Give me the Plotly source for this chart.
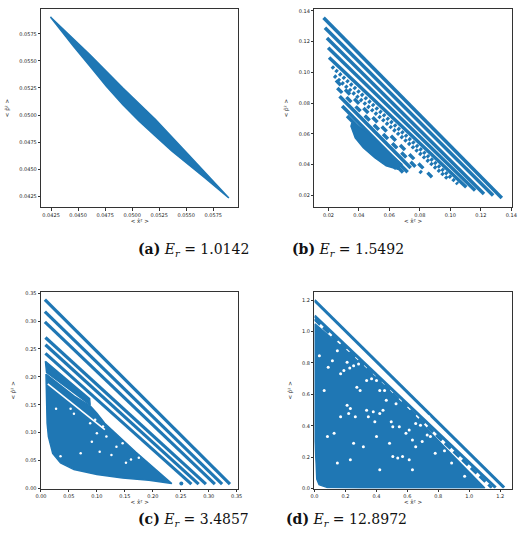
import plotly.graph_objects as go

BLUE = "#1f77b4"
W, H = 528, 550

# ---- (a) E_r = 1.0142 : one thin curved band
a_top_x = [0.04244, 0.04612, 0.04914, 0.05216, 0.05517, 0.05894]
a_top_y = [0.05906, 0.05554, 0.05249, 0.04959, 0.04638, 0.04235]
a_bot_x = [0.05668, 0.05517, 0.05366, 0.05216, 0.05065, 0.04914, 0.04763, 0.04612, 0.04461, 0.04244]
a_bot_y = [0.04425, 0.04546, 0.04669, 0.04806, 0.04944, 0.05096, 0.05264, 0.05448, 0.05631, 0.05906]

# ---- (b) E_r = 1.5492 : parallel bands + small cluster
b_x0 = [0.0168, 0.0177, 0.0190, 0.0198, 0.0204, 0.0222, 0.0237, 0.0249, 0.0258, 0.0273, 0.0290, 0.0322, 0.0354]
b_y0 = [0.1355, 0.1290, 0.1224, 0.1161, 0.1097, 0.1038, 0.0979, 0.0948, 0.0899, 0.0845, 0.0781, 0.0716, 0.0663]
b_x1 = [0.1338, 0.1281, 0.1221, 0.1163, 0.1105, 0.1050, 0.0986, 0.0880, 0.0812, 0.0740, 0.0720, 0.0690, 0.0645]
b_y1 = [0.0183, 0.0198, 0.0209, 0.0231, 0.0252, 0.0273, 0.0305, 0.0318, 0.0345, 0.0378, 0.0350, 0.0348, 0.0372]
b_style = ["solid", "solid", "solid", "solid", "solid", "3px,2px", "3px,2px",
           "7px,6px", "7px,6px", "solid", "solid", "solid", "solid"]
b_blob_x = [0.0354, 0.0429, 0.0515, 0.0601, 0.0682, 0.0654, 0.0579, 0.0504, 0.0429, 0.0376, 0.0348]
b_blob_y = [0.0671, 0.0628, 0.0553, 0.0478, 0.0402, 0.0370, 0.0392, 0.0445, 0.0510, 0.0574, 0.0650]

# ---- (c) E_r = 3.4857
c_x0 = [0.007, 0.007, 0.007, 0.008, 0.008, 0.008]
c_y0 = [0.3385, 0.3168, 0.2985, 0.2706, 0.2576, 0.2422]
c_x1 = [0.338, 0.324, 0.311, 0.295, 0.282, 0.269]
c_y1 = [0.008, 0.008, 0.008, 0.008, 0.008, 0.008]
c_seg_x = [0.008, 0.087, 0.088, 0.010]
c_seg_y = [0.228, 0.161, 0.150, 0.208]
c_blob_x = [0.009, 0.060, 0.088, 0.100, 0.114, 0.170, 0.234, 0.222, 0.193, 0.146,
            0.100, 0.059, 0.035, 0.021, 0.0133, 0.011, 0.010]
c_blob_y = [0.205, 0.165, 0.148, 0.135, 0.117, 0.065, 0.009, 0.011, 0.015, 0.019,
            0.025, 0.034, 0.046, 0.063, 0.093, 0.117, 0.188]
c_gap_x = [0.0122, 0.1143]
c_gap_y = [0.1877, 0.1056]
c_dot_x = [0.251]
c_dot_y = [0.009]
c_holes_x = [0.027, 0.053, 0.059, 0.088, 0.097, 0.111, 0.100, 0.117, 0.091,
             0.105, 0.135, 0.146, 0.126, 0.152, 0.161, 0.175, 0.071, 0.035]
c_holes_y = [0.143, 0.143, 0.134, 0.117, 0.123, 0.111, 0.099, 0.093, 0.084,
             0.066, 0.075, 0.081, 0.060, 0.046, 0.052, 0.055, 0.063, 0.058]

# ---- (d) E_r = 12.8972
d_x0 = [0.0, 0.0, 0.0]
d_y0 = [1.20, 1.10, 1.08]
d_x1 = [1.225, 1.170, 1.145]
d_y1 = [0.006, 0.006, 0.005]
d_style = ["solid", "solid", "8px,4px"]
d_blob_x = [0.003, 0.21, 0.42, 0.63, 0.84, 1.05, 1.10, 0.30, 0.084, 0.03, 0.015, 0.011, 0.003]
d_blob_y = [1.05, 0.875, 0.685, 0.48, 0.265, 0.05, 0.004, 0.004, 0.006, 0.025, 0.06, 0.16, 0.30]
d_holes_x = [0.032, 0.089, 0.116, 0.148, 0.169, 0.190, 0.211, 0.228, 0.253, 0.285,
             0.211, 0.232, 0.221, 0.264, 0.337, 0.369, 0.401, 0.274, 0.295, 0.422,
             0.453, 0.464, 0.337, 0.380, 0.422, 0.443, 0.348, 0.390, 0.496, 0.506,
             0.527, 0.548, 0.591, 0.612, 0.654, 0.685, 0.728, 0.749, 0.633, 0.654,
             0.506, 0.538, 0.569, 0.612, 0.696, 0.780, 0.840, 0.253, 0.316, 0.148,
             0.232, 0.422, 0.633, 0.886, 0.970, 0.169, 0.127, 0.084, 0.063, 0.401,
             0.485, 0.738]
d_holes_y = [0.846, 0.773, 0.815, 0.878, 0.731, 0.752, 0.804, 0.768, 0.783, 0.794,
             0.531, 0.510, 0.478, 0.457, 0.689, 0.699, 0.689, 0.646, 0.625, 0.625,
             0.625, 0.562, 0.499, 0.489, 0.478, 0.499, 0.457, 0.425, 0.425, 0.394,
             0.541, 0.394, 0.352, 0.373, 0.415, 0.404, 0.341, 0.331, 0.310, 0.267,
             0.204, 0.194, 0.204, 0.183, 0.299, 0.225, 0.240, 0.288, 0.267, 0.162,
             0.183, 0.120, 0.120, 0.162, 0.078, 0.457, 0.352, 0.331, 0.625, 0.331,
             0.288, 0.457]

X_TITLE = "&lt; x\u0302\u00b2 &gt;"
Y_TITLE = "&lt; p\u0302\u00b2 &gt;"

fig = go.Figure()


def ax_ref(key):
    return dict(xaxis="x" + key, yaxis="y" + key)


def add_poly(xs, ys, key, color=BLUE):
    fig.add_trace(go.Scatter(x=xs + xs[:1], y=ys + ys[:1], mode="lines", fill="toself",
                             fillcolor=color, line=dict(color=color, width=1.5),
                             hoverinfo="skip", **ax_ref(key)))


def add_lines(x0, y0, x1, y1, styles, width, key):
    for i in range(len(x0)):
        fig.add_trace(go.Scatter(x=[x0[i], x1[i]], y=[y0[i], y1[i]], mode="lines",
                                 line=dict(color=BLUE, width=width, dash=styles[i]),
                                 hoverinfo="skip", **ax_ref(key)))


def add_dots(xs, ys, key, color, size):
    fig.add_trace(go.Scatter(x=xs, y=ys, mode="markers",
                             marker=dict(color=color, size=size, line=dict(width=0)),
                             hoverinfo="skip", **ax_ref(key)))


# (a)
add_poly(a_top_x + a_bot_x, a_top_y + a_bot_y, "")
# (b)
add_lines(b_x0, b_y0, b_x1, b_y1, b_style, 3.5, "2")
add_poly(b_blob_x, b_blob_y, "2")
# (c)
add_lines(c_x0, c_y0, c_x1, c_y1, ["solid"] * 6, 3.2, "3")
add_poly(c_blob_x, c_blob_y, "3")
add_poly(c_seg_x, c_seg_y, "3")
fig.add_trace(go.Scatter(x=c_gap_x, y=c_gap_y, mode="lines", line=dict(color="white", width=1.6),
                         hoverinfo="skip", **ax_ref("3")))
add_dots(c_dot_x, c_dot_y, "3", BLUE, 4)
add_dots(c_holes_x, c_holes_y, "3", "white", 2.5)
# (d)
add_poly(d_blob_x, d_blob_y, "4")
add_lines(d_x0, d_y0, d_x1, d_y1, d_style, 3, "4")
add_dots(d_holes_x, d_holes_y, "4", "white", 3)

# panel boxes in pixels: left, right, top, bottom
panels = {
    "": dict(box=(36, 237.3, 7, 207), xr=[0.04159, 0.05982], yr=[0.0415, 0.0598],
             ticks=[0.0425, 0.045, 0.0475, 0.05, 0.0525, 0.055, 0.0575], fmt=".4f"),
    "2": dict(box=(315, 516.3, 7, 207), xr=[0.0108, 0.1402], yr=[0.0123, 0.1413],
              ticks=[0.02, 0.04, 0.06, 0.08, 0.10, 0.12, 0.14], fmt=".2f"),
    "3": dict(box=(35.7, 237.3, 292.7, 491), xr=[0, 0.353], yr=[0, 0.352],
              ticks=[0, 0.05, 0.10, 0.15, 0.20, 0.25, 0.30, 0.35], fmt=".2f"),
    "4": dict(box=(315, 516.3, 292.7, 491), xr=[0, 1.273], yr=[0, 1.252],
              ticks=[0, 0.2, 0.4, 0.6, 0.8, 1.0, 1.2], fmt=".1f"),
}

axis_style = dict(showline=True, mirror=True, linecolor="#333333", linewidth=0.9,
                  ticks="outside", ticklen=2.5, tickwidth=0.6, tickcolor="#333333",
                  showgrid=False, zeroline=False,
                  tickfont=dict(family="DejaVu Sans", size=5, color="#222222"))
title_font = dict(family="DejaVu Sans", size=5.5, color="#222222")

layout_axes = {}
for key, p in panels.items():
    l, r, t, b = p["box"]
    layout_axes["xaxis" + key] = dict(axis_style, domain=[l / W, r / W], range=p["xr"],
                                      tickvals=p["ticks"], tickformat=p["fmt"],
                                      anchor="y" + key,
                                      title=dict(text=X_TITLE, font=title_font, standoff=2))
    layout_axes["yaxis" + key] = dict(axis_style, domain=[1 - b / H, 1 - t / H], range=p["yr"],
                                      tickvals=p["ticks"], tickformat=p["fmt"],
                                      anchor="x" + key,
                                      title=dict(text=Y_TITLE, font=title_font, standoff=9))

captions = ["<b>(a)</b> <i>E<sub>r</sub></i> = 1.0142", "<b>(b)</b> <i>E<sub>r</sub></i> = 1.5492",
            "<b>(c)</b> <i>E<sub>r</sub></i> = 3.4857", "<b>(d)</b> <i>E<sub>r</sub></i> = 12.8972"]
caption_pos = [(133, 250), (408, 250), (133, 534), (412, 534)]

ann = []
for txt, (xx, yy) in zip(captions, caption_pos):
    ann.append(dict(x=xx / W, y=1 - yy / H, xref="paper", yref="paper", showarrow=False,
                    text=txt, font=dict(family="DejaVu Serif", size=14, color="#111111")))

fig.update_layout(width=W, height=H, margin=dict(l=0, r=0, t=0, b=0),
                  paper_bgcolor="white", plot_bgcolor="white", showlegend=False,
                  annotations=ann, **layout_axes)

# the page body has a default 8px margin; drop it so the figure sits at the window corner
fig.write_html("out.html", config={"displayModeBar": False},
               post_script="document.body.style.margin='0';")
